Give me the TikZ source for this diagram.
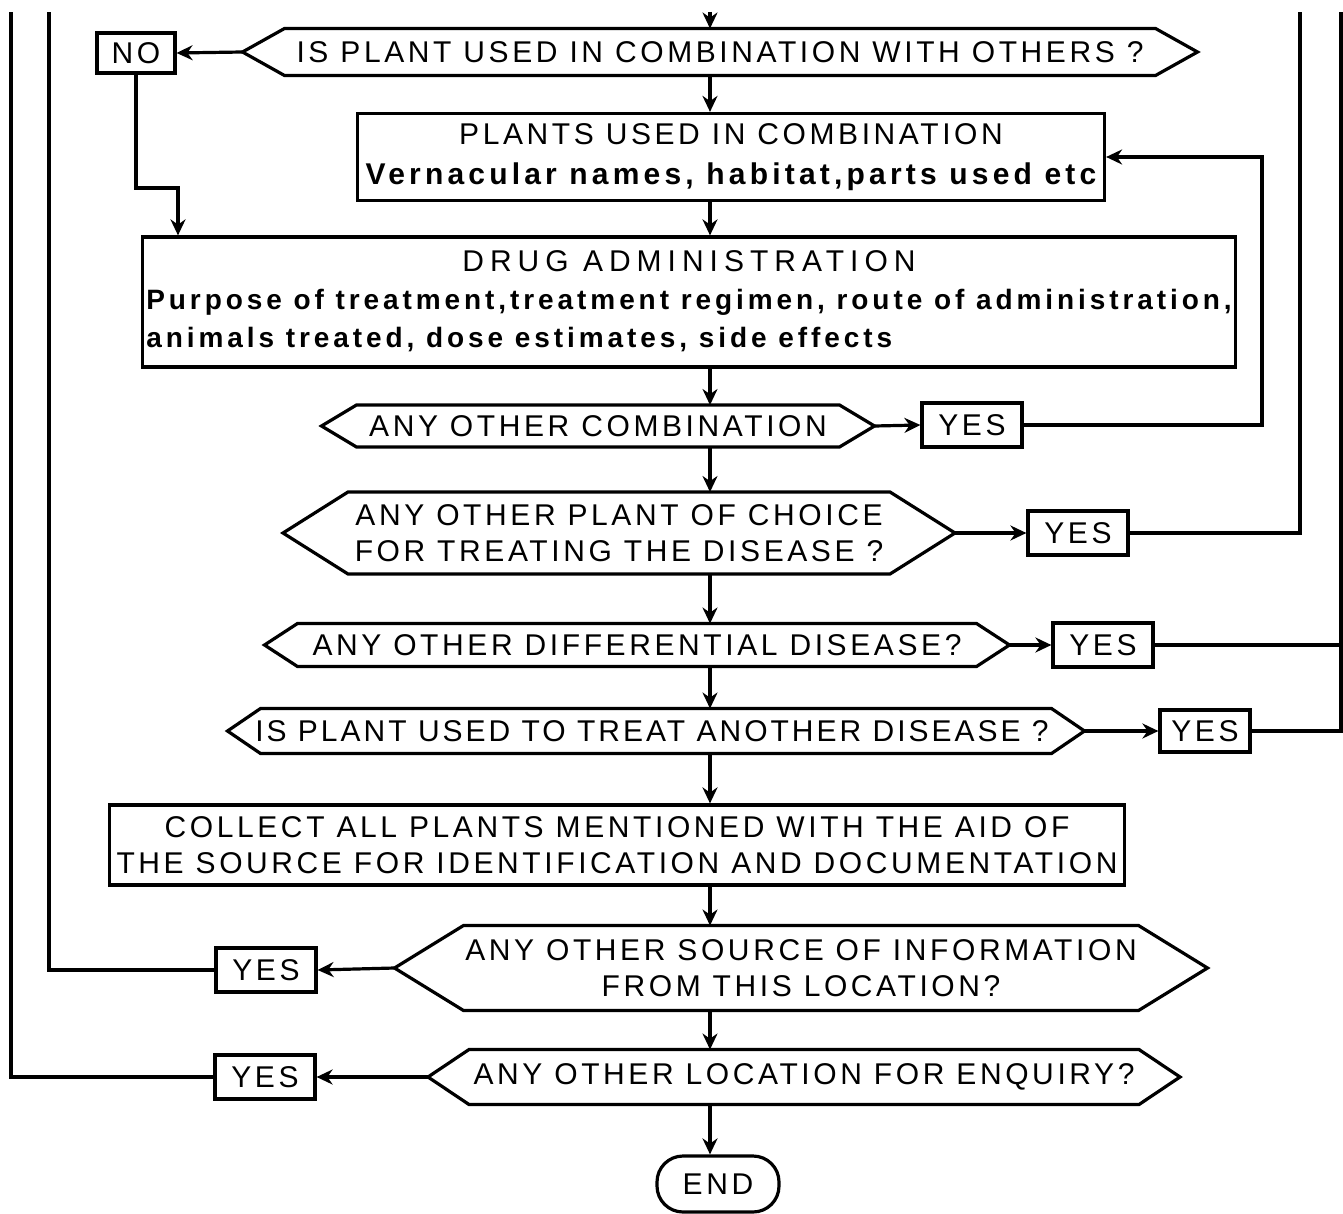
\documentclass[tikz,border=0pt]{standalone}
\usepackage{fontspec}
\setmainfont{Liberation Sans}
\usetikzlibrary{arrows.meta}

\begin{document}
\begin{tikzpicture}[
  x=0.5pt, y=-0.5pt,
  every node/.style={font=\fontsize{15}{18}\selectfont\addfontfeatures{LetterSpace=12}},
  box/.style={draw,line width=1.6pt,align=center,inner sep=3pt},
  ansbox/.style={box,minimum width=50pt,minimum height=22pt,inner sep=0pt},
  quest/.style={inner sep=0pt,outer sep=0pt,align=center},
  arrow/.style={-{Stealth[length=8pt,width=7.5pt]},line width=1.6pt},
  link/.style={line width=1.6pt},
]
\useasboundingbox (0,0) rectangle (1343,1214);
% rails and spine
\coordinate (spine) at (710,12);
\coordinate (railL1) at (11,12);
\coordinate (railL2) at (49,12);
\coordinate (railR1) at (1300,12);
\coordinate (railR2) at (1341,12);
\coordinate (loopR) at (1262,157);
\coordinate (nobend) at (178,188);

\node[quest,minimum width=477.5pt,minimum height=23.5pt] (q1) at (720,52) {IS PLANT USED IN COMBINATION WITH OTHERS ?};
\node[ansbox,minimum width=39pt,minimum height=20pt] (no) at (136,53) {NO};
\node[box,minimum width=373.5pt,minimum height=43.5pt] (comb) at (731,157)
  {PLANTS USED IN COMBINATION\\[2pt]{\bfseries\addfontfeatures{LetterSpace=14}Vernacular names, habitat,parts used etc}};
\node[box,minimum width=544pt,minimum height=65pt,inner sep=2pt] (drug) at (689,302)
  {\begin{tabular}{@{}l@{}}\multicolumn{1}{c}{\addfontfeatures{LetterSpace=20}DRUG ADMINISTRATION}\\[1pt]
   {\fontsize{14}{17}\selectfont\bfseries\addfontfeatures{LetterSpace=14}Purpose of treatment,treatment regimen, route of administration,}\\[1pt]
   {\fontsize{14}{17}\selectfont\bfseries\addfontfeatures{LetterSpace=14}animals treated, dose estimates, side effects}\end{tabular}};
\node[quest,minimum width=276.5pt,minimum height=21pt] (q2) at (598,426) {ANY OTHER COMBINATION};
\node[ansbox] (yes1) at (972,425) {YES};
\node[quest,minimum width=336pt,minimum height=41pt] (q3) at (619,533) {ANY OTHER PLANT OF CHOICE\\FOR TREATING THE DISEASE ?};
\node[ansbox] (yes2) at (1078,533) {YES};
\node[quest,minimum width=372.5pt,minimum height=21.5pt] (q4) at (637,645) {ANY OTHER DIFFERENTIAL DISEASE?};
\node[ansbox] (yes3) at (1103,645) {YES};
\node[quest,minimum width=428.5pt,minimum height=22.5pt] (q5) at (656,731)
  {\addfontfeatures{LetterSpace=10}IS PLANT USED TO TREAT ANOTHER DISEASE ?\hspace*{4pt}};
\node[ansbox,minimum width=45pt,minimum height=21pt] (yes4) at (1205,731) {YES};
\node[box,minimum width=507.5pt,minimum height=40pt] (collect) at (617,845)
  {COLLECT ALL PLANTS MENTIONED WITH THE AID OF\\THE SOURCE FOR IDENTIFICATION AND DOCUMENTATION};
\node[quest,minimum width=406.5pt,minimum height=42.5pt] (q6) at (801,968) {ANY OTHER SOURCE OF INFORMATION\\FROM THIS LOCATION?};
\node[ansbox] (yes5) at (266,970) {YES};
\node[quest,minimum width=376pt,minimum height=27.5pt] (q7) at (804,1077) {ANY OTHER LOCATION FOR ENQUIRY?};
\node[ansbox] (yes6) at (265,1077) {YES};
\node[box,rounded corners=13pt,minimum width=61pt,minimum height=28pt] (endn) at (718,1184) {END};

% hexagonal question outlines
\foreach \q/\c in {q1/21pt,q2/17.5pt,q3/32.5pt,q4/16.5pt,q5/16.5pt,q6/34.5pt,q7/20.5pt}
  \draw[link] (\q.west) -- ([xshift=\c]\q.north west) -- ([xshift=-\c]\q.north east) -- (\q.east)
    -- ([xshift=-\c]\q.south east) -- ([xshift=\c]\q.south west) -- cycle;

% main flow
\draw[arrow] (spine) -- (spine |- q1.north);
\draw[arrow] (q1.south -| spine) -- (comb.north -| spine);
\draw[arrow] (comb.south -| spine) -- (drug.north -| spine);
\draw[arrow] (drug.south -| spine) -- (q2.north -| spine);
\draw[arrow] (q2.south -| spine) -- (q3.north -| spine);
\draw[arrow] (q3.south -| spine) -- (q4.north -| spine);
\draw[arrow] (q4.south -| spine) -- (q5.north -| spine);
\draw[arrow] (q5.south -| spine) -- (collect.north -| spine);
\draw[arrow] (collect.south -| spine) -- (q6.north -| spine);
\draw[arrow] (q6.south -| spine) -- (q7.north -| spine);
\draw[arrow] (q7.south -| spine) -- (endn.north -| spine);

% answers
\draw[arrow] (q1.west) -- (no.east);
\draw[arrow] (no.south) |- (nobend) -- (nobend |- drug.north);
\draw[arrow] (q2.east) -- (yes1.west);
\draw[arrow] (yes1.east) -| (loopR) -- (comb.east);
\draw[arrow] (q3.east) -- (yes2.west);
\draw[link] (yes2.east) -| (railR1);
\draw[arrow] (q4.east) -- (yes3.west);
\draw[link] (yes3.east) -- (yes3.east -| railR2);
\draw[arrow] (q5.east) -- (yes4.west);
\draw[link] (yes4.east) -| (railR2);
\draw[arrow] (q6.west) -- (yes5.east);
\draw[link] (yes5.west) -| (railL2);
\draw[arrow] (q7.west) -- (yes6.east);
\draw[link] (yes6.west) -| (railL1);
\end{tikzpicture}
\end{document}
